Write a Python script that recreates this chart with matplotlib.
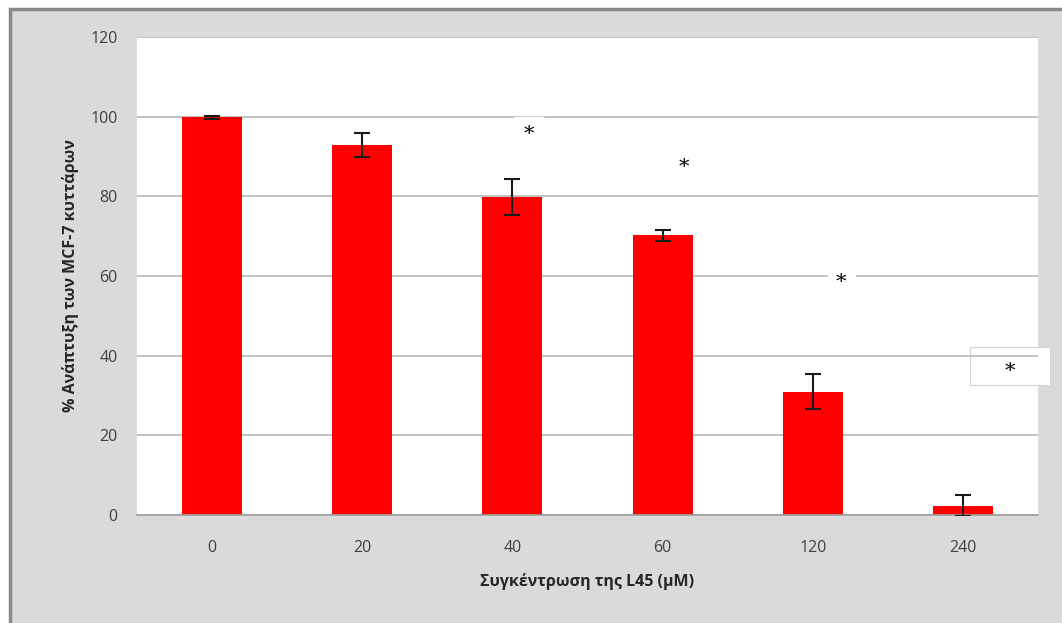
#MCF-7 growth vs L45 concentration bar chart

import matplotlib.pyplot as plt
from matplotlib.patches import Rectangle

#data
concentrations = ["0", "20", "40", "60", "120", "240"]
growth = [99.8, 93.0, 79.8, 70.2, 31.0, 2.3]
errors = [0.4, 3.0, 4.5, 1.3, 4.3, 2.6]

#significance marks (category index, height, x offset)
star_idx = [2, 3, 4, 5]
star_y = [95.5, 87.2, 58.3, 36.0]
star_dx = [0.11, 0.14, 0.19, 0.31]

plt.rcParams["font.family"] = ["Open Sans", "DejaVu Sans"]

fig = plt.figure(figsize=(10.62, 6.23), dpi=100)
fig.patch.set_facecolor("white")

#grey chart area with border
fig.patches.append(Rectangle((10 / 1062, -0.05), 1.1, 1 - 9 / 623 + 0.05,
                             transform=fig.transFigure, facecolor="#dadada",
                             edgecolor="#8a8a8a", linewidth=2.5, zorder=-1))

ax = fig.add_axes([137 / 1062, 1 - 515 / 623, 901 / 1062, 478 / 623])
ax.set_facecolor("white")

x = range(len(concentrations))
ax.bar(x, growth, width=0.4, color="#ff0000", zorder=2)
ax.errorbar(x, growth, yerr=errors, fmt="none", ecolor="#1a1a1a",
            elinewidth=1.5, capsize=6, capthick=1.5, zorder=3)

for i, y, dx in zip(star_idx, star_y, star_dx):
    if i == 5:
        #text box that sticks out past the plot area
        ax.add_patch(Rectangle((i + 0.05, y - 3.4), 0.53, 9.6,
                               facecolor="white", edgecolor="#d4d4d4",
                               linewidth=0.8, zorder=0.05, clip_on=False))
        box = None
    else:
        box = dict(facecolor="white", edgecolor="white", pad=6)
    ax.text(i + dx, y, "*", ha="center", va="center", fontsize=15,
            fontfamily="DejaVu Serif", color="black", bbox=box,
            zorder=4, clip_on=False)

ax.set_xlim(-0.5, len(concentrations) - 0.5)
ax.set_ylim(0, 120)
ax.set_yticks(range(0, 121, 20))
ax.set_xticks(list(x))
ax.set_xticklabels(concentrations)
ax.set_axisbelow(True)
ax.yaxis.grid(True, color="#b8b8b8", linewidth=1.2)
ax.yaxis.set_zorder(0.6)

for side in ["top", "right", "left"]:
    ax.spines[side].set_visible(False)
ax.spines["bottom"].set_color("#a0a0a0")
ax.spines["bottom"].set_linewidth(1.2)

ax.tick_params(axis="both", length=0, labelsize=11.5, labelcolor="#404040")
ax.tick_params(axis="x", pad=18)
ax.tick_params(axis="y", pad=14)

ax.set_xlabel("Συγκέντρωση της L45 (μM)", fontsize=11.5, fontweight="bold",
              color="#262626", labelpad=12)
ax.set_ylabel("% Ανάπτυξη των MCF-7 κυττάρων", fontsize=11.5, fontweight="bold",
              color="#262626", labelpad=8)

plt.savefig("out.png", dpi=100)
